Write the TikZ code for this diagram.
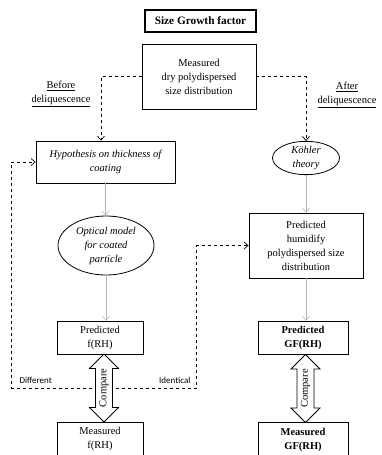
\documentclass[tikz,border=0pt]{standalone}
\usepackage{fontspec}
\setmainfont{Liberation Serif}
\newfontfamily\sidefont{Carlito}
\usetikzlibrary{arrows.meta,shapes.geometric,shapes.arrows,backgrounds}
\newcommand\fsz{\fontsize{10.5}{14}\selectfont}

\begin{document}
\begin{tikzpicture}[x=1pt,y=-1pt,font=\fsz,
  box/.style={draw,line width=0.8pt,align=center,inner sep=1pt},
  oval/.style={draw,ellipse,line width=0.8pt,align=center,inner sep=0pt,font=\fsz\itshape},
  flow/.style={gray!60,line width=0.6pt,-{Straight Barb[length=4pt,width=7pt]}},
  dasharrow/.style={dashed,line width=0.7pt,-{Straight Barb[length=4pt,width=7pt]}},
  cmp/.style={draw,double arrow,line width=0.8pt,fill=white,rotate=90,
    minimum height=68pt,inner xsep=1pt,inner ysep=3.5pt,double arrow head extend=6pt}]
 \useasboundingbox (0,0) rectangle (382,455);
 % top
 \node[box,line width=1.8pt,font=\fontsize{11.3}{14}\selectfont\bfseries,minimum width=111pt,minimum height=22pt] (title) at (200.5,21) {Size Growth factor};
 \node[box,minimum width=114pt,minimum height=65pt] (meas) at (199,76.5) {Measured\\dry polydispersed\\size distribution};
 \node[align=center] (before) at (61,94) {\underline{Before}\\\underline{deliquescence}};
 \node[align=center] (after) at (347,95) {\underline{After}\\\underline{deliquescence}};
 % left branch
 \node[box,font=\fsz\itshape,minimum width=139pt,minimum height=42pt] (hyp) at (105.5,162) {Hypothesis on thickness of\\coating};
 \node[oval,minimum width=96pt,minimum height=59pt] (opt) at (106,245.5) {Optical model\\for coated\\particle};
 \node[box,minimum width=86pt,minimum height=33pt] (predL) at (100,337.5) {Predicted\\f(RH)};
 \node[box,minimum width=86pt,minimum height=34pt] (measL) at (100,439) {Measured\\f(RH)};
 \node[cmp] (cmpL) at (104,388) {Compare};
 % right branch
 \node[oval,minimum width=67pt,minimum height=30pt] (koh) at (306,158) {Köhler\\theory};
 \node[box,minimum width=114pt,minimum height=65pt] (hum) at (306,245.5) {Predicted\\humidify\\polydispersed size\\distribution};
 \node[box,font=\fsz\bfseries,minimum width=90pt,minimum height=33pt] (predR) at (303,337.5) {Predicted\\GF(RH)};
 \node[box,font=\fsz\bfseries,minimum width=90pt,minimum height=34pt] (measR) at (303,439.5) {Measured\\GF(RH)};
 \node[cmp] (cmpR) at (305.5,388.5) {Compare};
 % connectors
 \draw[dasharrow] (meas.west) -| ([xshift=-4.5pt]hyp.north);
 \draw[dasharrow] (meas.east) -| (koh.north);
 \draw[flow] (hyp.south) -- (hyp.south |- opt.north);
 \draw[flow] (opt.south) -- (opt.south |- predL.north);
 \draw[flow] (koh.south) -- (hum.north);
 \draw[flow] (hum.south) -- (hum.south |- predR.north);
 \begin{scope}[on background layer]
  \draw[dasharrow] (cmpL.center) -| ([xshift=-24pt]hyp.west) -- (hyp.west);
  \draw[dasharrow] (cmpL.center) -| ([xshift=-52pt]hum.west) -- (hum.west);
 \end{scope}
 \node[anchor=west,font=\sidefont\fontsize{9}{11}\selectfont] (diff) at (16,380) {Different};
 \node[anchor=east,font=\sidefont\fontsize{9}{11}\selectfont] (ident) at (194,380) {Identical};
\end{tikzpicture}
\end{document}
